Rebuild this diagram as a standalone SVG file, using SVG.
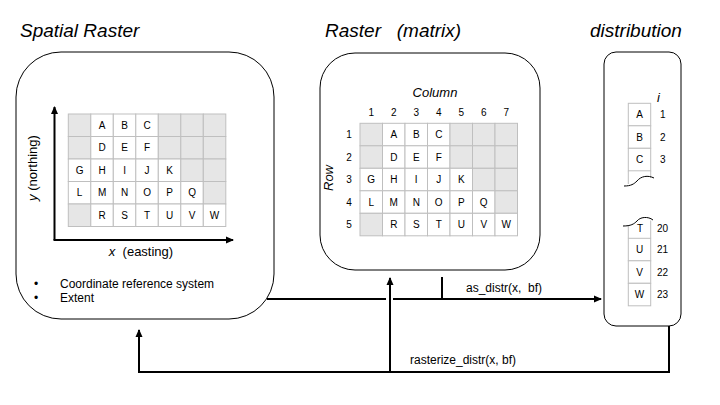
<svg xmlns="http://www.w3.org/2000/svg" width="720" height="405" viewBox="0 0 720 405">
<style>
text{font-family:"Liberation Sans",Arial,sans-serif;fill:#000;white-space:pre}
.title{font-size:19px;font-style:italic}
.box{fill:#fff;stroke:#000;stroke-width:1}
.c{fill:#fff;stroke:#bfbfbf;stroke-width:1}
.g{fill:#e6e6e6;stroke:#bfbfbf;stroke-width:1}
.cl{font-size:10px;text-anchor:middle}
.lab{font-size:12px}
.conn{fill:none;stroke:#000;stroke-width:2}
.wave{fill:none;stroke:#000;stroke-width:1}
</style>
<defs>
<marker id="ah" markerUnits="userSpaceOnUse" markerWidth="8" markerHeight="8" refX="7" refY="4" orient="auto">
<path d="M0,0.5 L8,4 L0,7.5 z" fill="#000"/>
</marker>
<g id="grid">
<rect class="g" x="0" y="0" width="22.5" height="22.5"/>
<rect class="c" x="22.5" y="0" width="22.5" height="22.5"/>
<rect class="c" x="45" y="0" width="22.5" height="22.5"/>
<rect class="c" x="67.5" y="0" width="22.5" height="22.5"/>
<rect class="g" x="90" y="0" width="22.5" height="22.5"/>
<rect class="g" x="112.5" y="0" width="22.5" height="22.5"/>
<rect class="g" x="135" y="0" width="22.5" height="22.5"/>
<rect class="g" x="0" y="22.5" width="22.5" height="22.5"/>
<rect class="c" x="22.5" y="22.5" width="22.5" height="22.5"/>
<rect class="c" x="45" y="22.5" width="22.5" height="22.5"/>
<rect class="c" x="67.5" y="22.5" width="22.5" height="22.5"/>
<rect class="g" x="90" y="22.5" width="22.5" height="22.5"/>
<rect class="g" x="112.5" y="22.5" width="22.5" height="22.5"/>
<rect class="g" x="135" y="22.5" width="22.5" height="22.5"/>
<rect class="c" x="0" y="45" width="22.5" height="22.5"/>
<rect class="c" x="22.5" y="45" width="22.5" height="22.5"/>
<rect class="c" x="45" y="45" width="22.5" height="22.5"/>
<rect class="c" x="67.5" y="45" width="22.5" height="22.5"/>
<rect class="c" x="90" y="45" width="22.5" height="22.5"/>
<rect class="g" x="112.5" y="45" width="22.5" height="22.5"/>
<rect class="g" x="135" y="45" width="22.5" height="22.5"/>
<rect class="c" x="0" y="67.5" width="22.5" height="22.5"/>
<rect class="c" x="22.5" y="67.5" width="22.5" height="22.5"/>
<rect class="c" x="45" y="67.5" width="22.5" height="22.5"/>
<rect class="c" x="67.5" y="67.5" width="22.5" height="22.5"/>
<rect class="c" x="90" y="67.5" width="22.5" height="22.5"/>
<rect class="c" x="112.5" y="67.5" width="22.5" height="22.5"/>
<rect class="g" x="135" y="67.5" width="22.5" height="22.5"/>
<rect class="g" x="0" y="90" width="22.5" height="22.5"/>
<rect class="c" x="22.5" y="90" width="22.5" height="22.5"/>
<rect class="c" x="45" y="90" width="22.5" height="22.5"/>
<rect class="c" x="67.5" y="90" width="22.5" height="22.5"/>
<rect class="c" x="90" y="90" width="22.5" height="22.5"/>
<rect class="c" x="112.5" y="90" width="22.5" height="22.5"/>
<rect class="c" x="135" y="90" width="22.5" height="22.5"/>
<text class="cl" x="33.75" y="14.8">A</text>
<text class="cl" x="56.25" y="14.8">B</text>
<text class="cl" x="78.75" y="14.8">C</text>
<text class="cl" x="33.75" y="37.3">D</text>
<text class="cl" x="56.25" y="37.3">E</text>
<text class="cl" x="78.75" y="37.3">F</text>
<text class="cl" x="11.25" y="59.8">G</text>
<text class="cl" x="33.75" y="59.8">H</text>
<text class="cl" x="56.25" y="59.8">I</text>
<text class="cl" x="78.75" y="59.8">J</text>
<text class="cl" x="101.25" y="59.8">K</text>
<text class="cl" x="11.25" y="82.3">L</text>
<text class="cl" x="33.75" y="82.3">M</text>
<text class="cl" x="56.25" y="82.3">N</text>
<text class="cl" x="78.75" y="82.3">O</text>
<text class="cl" x="101.25" y="82.3">P</text>
<text class="cl" x="123.75" y="82.3">Q</text>
<text class="cl" x="33.75" y="104.8">R</text>
<text class="cl" x="56.25" y="104.8">S</text>
<text class="cl" x="78.75" y="104.8">T</text>
<text class="cl" x="101.25" y="104.8">U</text>
<text class="cl" x="123.75" y="104.8">V</text>
<text class="cl" x="146.25" y="104.8">W</text>
</g>
</defs>
<rect width="720" height="405" fill="#fff"/>

<g id="spatial-raster">
<text class="title" x="20" y="37">Spatial Raster</text>
<rect class="box" x="16" y="52" width="258" height="267" rx="45" ry="45"/>
<use href="#grid" x="68.3" y="114"/>
<path d="M54.5,240 V107" class="conn" marker-end="url(#ah)"/>
<path d="M53.5,240 H233" class="conn" marker-end="url(#ah)"/>
<text class="lab" font-size="13" x="141" y="256" text-anchor="middle" style="font-size:13px"><tspan font-style="italic">x</tspan>  (easting)</text>
<text class="lab" style="font-size:13px" text-anchor="middle" transform="translate(37,168) rotate(-90)"><tspan font-style="italic">y</tspan> (northing)</text>
<text class="lab" x="34" y="288">•</text>
<text class="lab" x="60" y="288">Coordinate reference system</text>
<text class="lab" x="34" y="302">•</text>
<text class="lab" x="60" y="302">Extent</text>
</g>

<g id="raster-matrix">
<text class="title" x="325" y="37">Raster   (matrix)</text>
<rect class="box" x="320" y="53" width="220" height="217" rx="35" ry="35"/>
<text class="lab" style="font-size:13px;font-style:italic" x="435" y="96.5" text-anchor="middle">Column</text>
<text class="lab" style="font-size:13px;font-style:italic" text-anchor="middle" transform="translate(333,178) rotate(-90)">Row</text>
<g class="cl">
<text class="cl" x="371.25" y="116">1</text>
<text class="cl" x="393.75" y="116">2</text>
<text class="cl" x="416.25" y="116">3</text>
<text class="cl" x="438.75" y="116">4</text>
<text class="cl" x="461.25" y="116">5</text>
<text class="cl" x="483.75" y="116">6</text>
<text class="cl" x="506.25" y="116">7</text>
<text class="cl" x="349" y="138">1</text>
<text class="cl" x="349" y="160.5">2</text>
<text class="cl" x="349" y="183">3</text>
<text class="cl" x="349" y="205.5">4</text>
<text class="cl" x="349" y="228">5</text>
</g>
<use href="#grid" x="360" y="123.3"/>
</g>

<g id="distribution">
<text class="title" x="590" y="37">distribution</text>
<rect class="box" x="604" y="52" width="77" height="274" rx="12" ry="12"/>
<text class="lab" style="font-size:13px;font-style:italic" x="657" y="102">i</text>
<rect class="c" x="628.3" y="103.3" width="22.4" height="22.5"/>
<rect class="c" x="628.3" y="125.8" width="22.4" height="22.5"/>
<rect class="c" x="628.3" y="148.3" width="22.4" height="22.5"/>
<path d="M628.3,170.8 V184 M650.7,170.8 V178" stroke="#bfbfbf" fill="none"/>
<path class="wave" d="M624,186 C631,186 634,184 637,181 C641,176 648,175 654,178"/>
<path d="M628.3,225 V238.3 M650.7,220.5 V238.3" stroke="#bfbfbf" fill="none"/>
<rect class="c" x="628.3" y="238.3" width="22.4" height="22.5"/>
<rect class="c" x="628.3" y="260.8" width="22.4" height="22.5"/>
<rect class="c" x="628.3" y="283.3" width="22.4" height="22.5"/>
<text class="cl" x="639.5" y="118.3">A</text>
<text class="cl" x="639.5" y="140.8">B</text>
<text class="cl" x="639.5" y="163.3">C</text>
<text class="cl" x="640" y="231.5">T</text>
<text class="cl" x="639.5" y="253.3">U</text>
<text class="cl" x="639.5" y="275.8">V</text>
<text class="cl" x="639.5" y="298.3">W</text>
<path class="wave" d="M623,226 C631,226 634,224 637,221 C640,217 648,216 653,220"/>
<text style="font-size:10px" x="660" y="118.3">1</text>
<text style="font-size:10px" x="660" y="140.8">2</text>
<text style="font-size:10px" x="660" y="163.3">3</text>
<text style="font-size:10px" x="657" y="231.5">20</text>
<text style="font-size:10px" x="657" y="253.3">21</text>
<text style="font-size:10px" x="657" y="275.8">22</text>
<text style="font-size:10px" x="657" y="298.3">23</text>
</g>

<g id="connectors">
<path class="conn" d="M267,299 H386"/>
<path class="conn" d="M393,299 H601" marker-end="url(#ah)"/>
<path class="conn" d="M442,277 V299"/>
<path class="conn" d="M669,326 V372 H139 V330" marker-end="url(#ah)"/>
<path class="conn" d="M390,372 V278" marker-end="url(#ah)"/>
<text class="lab" x="466" y="291.5">as_distr(x,  bf)</text>
<text class="lab" x="410" y="364">rasterize_distr(x, bf)</text>
</g>
</svg>
